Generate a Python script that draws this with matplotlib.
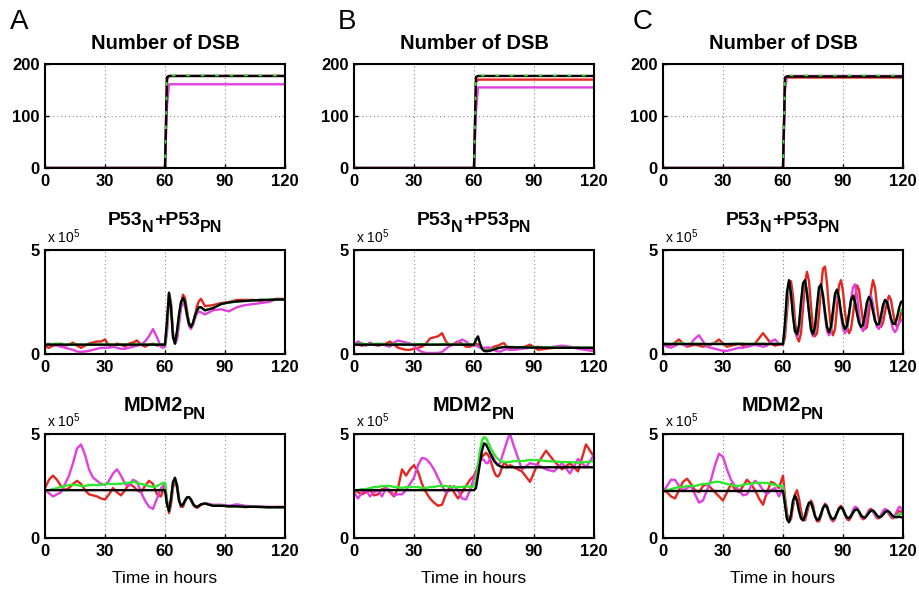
import matplotlib
matplotlib.use('Agg')
import matplotlib.pyplot as plt

plt.rcParams['font.family'] = ['Liberation Sans', 'DejaVu Sans']
plt.rcParams['mathtext.fontset'] = 'custom'
plt.rcParams['mathtext.rm'] = 'Liberation Sans'
plt.rcParams['mathtext.bf'] = 'Liberation Sans:bold'
plt.rcParams['mathtext.it'] = 'Liberation Sans:italic'

# ---------------- data ----------------
# time grids (hours)
T_PRE = [0, 2, 4, 6, 8, 10, 12, 14, 16, 18, 20, 22, 24, 26, 28, 30, 32, 34, 36, 38,
         40, 42, 44, 46, 48, 50, 52, 54, 56, 58, 59, 60]
T_POST_AB = [61, 62, 63, 64, 65, 66, 67, 68, 69, 70, 71, 72, 73, 74, 75, 76, 77, 78,
             80, 84, 88, 92, 96, 100, 104, 108, 112, 116, 120]
T_POST_C = list(range(61, 121))
T_FLAT = [0, 60]

# Number of DSB
DSB_T = [0, 60, 61, 62, 120]
A_DSB_RED = [0, 0, 170, 177, 177]
A_DSB_MAG = [0, 0, 120, 161, 161]
A_DSB_GRN = [0, 0, 176, 178, 178]
A_DSB_BLK = [0, 0, 175, 177, 177]
B_DSB_RED = [0, 0, 165, 170, 170]
B_DSB_MAG = [0, 0, 110, 155, 155]
B_DSB_GRN = [0, 0, 176, 178, 178]
B_DSB_BLK = [0, 0, 175, 177, 177]
C_DSB_RED = [0, 0, 168, 174, 174]
C_DSB_MAG = [0, 0, 150, 177, 177]
C_DSB_GRN = [0, 0, 176, 178, 178]
C_DSB_BLK = [0, 0, 174, 176, 176]

# P53_N + P53_PN  (x 10^5)
A_P53_RED = [0.35, 0.3, 0.4, 0.45, 0.5, 0.4, 0.45, 0.55, 0.4, 0.3, 0.4, 0.5, 0.55, 0.6, 0.6, 0.7,
             0.4, 0.35, 0.5, 0.45, 0.35, 0.5, 0.55, 0.65, 0.45, 0.35, 0.45, 0.5, 0.4, 0.45, 0.45, 0.5,
             1.2, 2.9, 2.5, 1.0, 0.5, 0.8, 1.6, 2.4, 2.85, 2.7, 2.1, 1.5, 1.3, 1.45, 1.85, 2.3, 2.55, 2.65,
             2.3, 2.35, 2.45, 2.5, 2.6, 2.6, 2.6, 2.55, 2.6, 2.65, 2.65]
A_P53_MAG = [0.45, 0.5, 0.45, 0.4, 0.35, 0.3, 0.25, 0.2, 0.12, 0.1, 0.12, 0.15, 0.2, 0.25, 0.3, 0.3,
             0.3, 0.35, 0.3, 0.25, 0.25, 0.3, 0.35, 0.4, 0.45, 0.6, 0.85, 1.2, 0.8, 0.35, 0.3, 0.35,
             1.0, 2.7, 2.4, 1.0, 0.5, 0.7, 1.4, 2.2, 2.5, 2.3, 1.8, 1.35, 1.2, 1.4, 1.7, 1.95, 2.05, 2.0,
             1.9, 2.1, 2.15, 2.05, 2.25, 2.35, 2.4, 2.45, 2.5, 2.65, 2.6]
A_P53_GRN = [0.45, 0.45, 0.48, 0.5, 0.48, 0.45, 0.45, 0.46, 0.45, 0.45, 0.44, 0.45, 0.46, 0.45, 0.45, 0.45,
             0.46, 0.45, 0.44, 0.45, 0.46, 0.45, 0.45, 0.45, 0.46, 0.45, 0.44, 0.45, 0.46, 0.45, 0.45, 0.45,
             1.5, 2.9, 2.3, 0.85, 0.5, 1.05, 1.85, 2.45, 2.68, 2.5, 1.95, 1.5, 1.32, 1.5, 1.85, 2.1, 2.22, 2.22,
             2.1, 2.22, 2.4, 2.48, 2.52, 2.55, 2.57, 2.6, 2.6, 2.62, 2.62]
A_P53_BLK = [0.45, 0.45,
             1.6, 2.95, 2.2, 0.8, 0.5, 1.1, 1.9, 2.5, 2.7, 2.5, 1.9, 1.45, 1.3, 1.5, 1.85, 2.1, 2.25, 2.25,
             2.1, 2.2, 2.4, 2.48, 2.53, 2.55, 2.58, 2.6, 2.6, 2.62, 2.62]

B_P53_RED = [0.45, 0.45, 0.4, 0.45, 0.5, 0.45, 0.4, 0.45, 0.5, 0.6, 0.45, 0.3, 0.25, 0.2, 0.2, 0.25,
             0.3, 0.35, 0.5, 0.75, 0.8, 0.85, 1.0, 0.6, 0.4, 0.5, 0.6, 0.5, 0.35, 0.35, 0.4, 0.45,
             0.5, 0.45, 0.35, 0.25, 0.2, 0.2, 0.22, 0.25, 0.3, 0.35, 0.38, 0.4, 0.45, 0.5, 0.52, 0.4, 0.3, 0.25,
             0.25, 0.3, 0.45, 0.2, 0.25, 0.3, 0.35, 0.3, 0.3, 0.2, 0.15]
B_P53_MAG = [0.45, 0.6, 0.5, 0.4, 0.55, 0.45, 0.45, 0.5, 0.4, 0.35, 0.55, 0.65, 0.6, 0.55, 0.5, 0.4,
             0.2, 0.1, 0.05, 0.05, 0.05, 0.05, 0.1, 0.25, 0.4, 0.45, 0.55, 0.7, 0.6, 0.45, 0.45, 0.4,
             0.4, 0.35, 0.3, 0.3, 0.3, 0.3, 0.32, 0.3, 0.25, 0.2, 0.15, 0.12, 0.12, 0.15, 0.2, 0.22, 0.22, 0.2,
             0.2, 0.25, 0.3, 0.35, 0.3, 0.35, 0.4, 0.35, 0.25, 0.2, 0.15]
B_P53_GRN = [0.45, 0.48, 0.5, 0.47, 0.45, 0.48, 0.5, 0.47, 0.45, 0.45, 0.47, 0.48, 0.47, 0.45, 0.45, 0.45,
             0.47, 0.48, 0.47, 0.45, 0.45, 0.45, 0.47, 0.48, 0.47, 0.45, 0.45, 0.46, 0.47, 0.46, 0.45, 0.45,
             0.65, 0.8, 0.5, 0.28, 0.18, 0.16, 0.17, 0.19, 0.21, 0.24, 0.27, 0.3, 0.31, 0.33, 0.34, 0.34, 0.34, 0.34,
             0.33, 0.33, 0.32, 0.32, 0.31, 0.31, 0.31, 0.3, 0.3, 0.3, 0.3]
B_P53_BLK = [0.45, 0.45,
             0.7, 0.85, 0.5, 0.25, 0.15, 0.13, 0.14, 0.16, 0.18, 0.22, 0.25, 0.28, 0.3, 0.32, 0.33, 0.33, 0.33, 0.33,
             0.32, 0.32, 0.31, 0.31, 0.3, 0.3, 0.3, 0.3, 0.3, 0.3, 0.3]

C_P53_RED = [0.45, 0.4, 0.45, 0.55, 0.7, 0.5, 0.35, 0.4, 0.45, 0.4, 0.35, 0.4, 0.45, 0.55, 0.7, 0.5,
             0.35, 0.4, 0.45, 0.5, 0.4, 0.35, 0.4, 0.5, 0.75, 1.0, 0.75, 0.5, 0.4, 0.45, 0.45, 0.45,
             0.8, 2.0, 3.2, 3.5, 2.8, 1.6, 0.8, 0.6, 1.0, 2.2,
             3.4, 3.95, 3.5, 2.3, 1.2, 0.85, 1.0, 1.9, 3.2, 4.1,
             4.2, 3.4, 2.2, 1.2, 0.9, 1.2, 2.2, 3.3, 3.55, 3.0,
             2.0, 1.3, 1.0, 1.2, 1.9, 2.7, 3.3, 3.1, 2.3, 1.6,
             1.2, 1.3, 2.0, 3.0, 3.55, 3.2, 2.3, 1.6, 1.3, 1.5,
             2.0, 2.5, 2.8, 2.6, 2.0, 1.5, 1.3, 1.5, 2.0, 2.2]
C_P53_MAG = [0.45, 0.35, 0.3, 0.4, 0.5, 0.45, 0.4, 0.5, 0.75, 0.9, 0.6, 0.35, 0.3, 0.25, 0.2, 0.15,
             0.15, 0.2, 0.25, 0.3, 0.3, 0.35, 0.4, 0.45, 0.4, 0.35, 0.4, 0.6, 0.7, 0.5, 0.45, 0.45,
             1.2, 2.6, 3.3, 3.1, 2.0, 1.1, 0.8, 1.1, 2.0, 3.1,
             3.45, 3.0, 2.0, 1.1, 0.85, 1.1, 2.0, 2.9, 3.1, 2.7,
             1.8, 1.1, 0.9, 1.1, 1.8, 2.6, 2.9, 2.6, 1.8, 1.2,
             1.0, 1.2, 1.8, 2.6, 3.2, 3.35, 2.8, 1.9, 1.3, 1.1,
             1.3, 1.9, 2.6, 2.8, 2.4, 1.7, 1.3, 1.2, 1.5, 2.1,
             2.5, 2.6, 2.2, 1.6, 1.2, 1.05, 1.2, 1.5, 1.6, 1.7]
C_P53_GRN = [0.5, 0.5, 0.48, 0.5, 0.52, 0.5, 0.48, 0.5, 0.5, 0.5, 0.48, 0.47, 0.48, 0.5, 0.5, 0.48,
             0.47, 0.48, 0.5, 0.5, 0.5, 0.48, 0.48, 0.5, 0.5, 0.5, 0.48, 0.48, 0.5, 0.5, 0.48, 0.48,
             1.3, 2.8, 3.4, 3.0, 1.9, 1.1, 0.95, 1.3, 2.4, 3.3,
             3.5, 3.0, 2.1, 1.25, 0.95, 1.25, 2.2, 3.1, 3.3, 2.85,
             2.05, 1.35, 1.05, 1.25, 2.0, 2.8, 3.0, 2.7, 2.0, 1.45,
             1.2, 1.3, 1.9, 2.55, 2.7, 2.5, 2.0, 1.5, 1.3, 1.4,
             1.85, 2.45, 2.7, 2.55, 2.1, 1.6, 1.4, 1.45, 1.8, 2.3,
             2.6, 2.5, 2.1, 1.7, 1.45, 1.45, 1.7, 2.0, 2.1, 2.0]
C_P53_BLK = [0.48, 0.48,
             1.5, 3.0, 3.55, 2.9, 1.8, 1.1, 0.95, 1.4, 2.5, 3.4,
             3.55, 2.9, 2.0, 1.2, 0.95, 1.3, 2.3, 3.2, 3.35, 2.8,
             2.0, 1.3, 1.05, 1.3, 2.1, 2.9, 3.1, 2.7, 2.0, 1.45,
             1.2, 1.35, 1.95, 2.6, 2.8, 2.5, 1.95, 1.5, 1.3, 1.4,
             1.9, 2.5, 2.75, 2.55, 2.05, 1.6, 1.4, 1.45, 1.85, 2.35,
             2.6, 2.5, 2.1, 1.7, 1.45, 1.45, 1.75, 2.2, 2.5, 2.55]

# MDM2_PN  (x 10^5)
A_MDM_RED = [2.4, 2.8, 3.0, 2.8, 2.5, 2.3, 2.4, 2.6, 2.75, 2.6, 2.3, 2.1, 2.05, 2.0, 1.9, 1.85,
             2.1, 2.4, 2.2, 2.05, 2.3, 2.6, 2.5, 2.3, 2.2, 2.5, 2.75, 2.6, 2.1, 2.0, 2.3, 2.5,
             1.8, 1.2, 1.6, 2.4, 2.8, 2.6, 1.9, 1.5, 1.5, 1.75, 1.95, 1.95, 1.8, 1.6, 1.5, 1.45, 1.5, 1.6,
             1.65, 1.55, 1.58, 1.5, 1.55, 1.48, 1.52, 1.5, 1.47, 1.5, 1.48]
A_MDM_MAG = [2.3, 2.15, 2.0, 2.1, 2.2, 2.6, 3.0, 3.6, 4.3, 4.5, 4.0, 3.3, 2.9, 2.75, 2.6, 2.55,
             2.75, 3.1, 3.3, 3.0, 2.6, 2.5, 2.8, 2.7, 2.2, 1.8, 1.5, 1.4, 1.9, 2.4, 2.5, 2.6,
             1.7, 1.35, 1.8, 2.6, 2.8, 2.4, 1.8, 1.55, 1.6, 1.8, 1.95, 1.95, 1.85, 1.65, 1.55, 1.5, 1.55, 1.6,
             1.68, 1.6, 1.6, 1.55, 1.62, 1.55, 1.52, 1.5, 1.5, 1.48, 1.5]
A_MDM_GRN = [2.3, 2.3, 2.35, 2.4, 2.45, 2.5, 2.55, 2.55, 2.55, 2.5, 2.5, 2.55, 2.55, 2.55, 2.55, 2.6,
             2.6, 2.6, 2.6, 2.6, 2.65, 2.65, 2.7, 2.65, 2.6, 2.55, 2.5, 2.45, 2.5, 2.6, 2.65, 2.65,
             1.7, 1.3, 1.85, 2.65, 2.85, 2.5, 1.8, 1.55, 1.6, 1.8, 1.95, 1.97, 1.85, 1.65, 1.52, 1.5, 1.55, 1.62,
             1.66, 1.56, 1.55, 1.53, 1.52, 1.5, 1.5, 1.49, 1.48, 1.48, 1.48]
A_MDM_BLK = [2.3, 2.3,
             1.6, 1.3, 1.9, 2.7, 2.9, 2.5, 1.8, 1.55, 1.6, 1.8, 1.95, 1.97, 1.85, 1.65, 1.52, 1.5, 1.55, 1.62,
             1.66, 1.55, 1.55, 1.53, 1.52, 1.5, 1.5, 1.49, 1.48, 1.48, 1.48]

B_MDM_RED = [2.3, 2.2, 2.1, 2.2, 2.3, 2.05, 2.1, 2.35, 2.4, 2.2, 2.0, 2.4, 3.3, 3.0, 3.3, 3.5,
             3.2, 2.6, 2.2, 1.9, 1.7, 1.55, 1.6, 2.1, 2.5, 2.2, 1.9, 2.2, 2.5, 2.8, 2.9, 3.0,
             3.2, 3.5, 3.7, 3.9, 4.0, 4.1, 4.0, 3.8, 3.5, 3.2, 3.0, 2.95, 3.1, 3.4, 3.6, 3.55, 3.4, 3.5,
             3.4, 3.2, 2.7, 3.6, 4.2, 3.7, 3.3, 3.6, 3.2, 4.5, 3.9]
B_MDM_MAG = [2.2, 1.9, 2.2, 2.3, 2.0, 2.2, 2.3, 2.0, 2.4, 2.3, 2.05, 2.1, 2.1, 2.3, 2.6, 2.9,
             3.5, 3.85, 3.8, 3.6, 3.3, 2.9, 2.5, 2.2, 2.3, 2.5, 2.3, 1.9, 1.85, 2.3, 2.6, 2.9,
             3.1, 3.4, 3.7, 3.8, 3.75, 3.6, 3.6, 3.8, 4.0, 3.8, 3.6, 3.5, 3.6, 3.9, 4.2, 4.5, 4.8, 5.0,
             4.4, 3.3, 3.6, 3.5, 3.3, 3.2, 3.6, 3.1, 3.8, 3.4, 4.0]
B_MDM_GRN = [2.3, 2.3, 2.35, 2.35, 2.4, 2.45, 2.45, 2.5, 2.5, 2.5, 2.45, 2.45, 2.4, 2.45, 2.45, 2.45,
             2.45, 2.4, 2.4, 2.45, 2.45, 2.5, 2.5, 2.5, 2.45, 2.45, 2.45, 2.45, 2.5, 2.45, 2.45, 2.5,
             2.8, 3.5, 4.2, 4.7, 4.85, 4.8, 4.6, 4.4, 4.2, 4.05, 3.9, 3.8, 3.72, 3.68, 3.65, 3.65, 3.65, 3.65,
             3.7, 3.7, 3.75, 3.75, 3.7, 3.68, 3.65, 3.65, 3.62, 3.65, 3.7]
B_MDM_BLK = [2.3, 2.3,
             2.4, 3.0, 3.6, 4.2, 4.55, 4.5, 4.3, 4.1, 3.9, 3.7, 3.6, 3.5, 3.45, 3.42, 3.4, 3.4, 3.4, 3.4,
             3.4, 3.4, 3.4, 3.4, 3.4, 3.4, 3.4, 3.4, 3.4, 3.4, 3.4]

C_MDM_RED = [2.3, 2.2, 2.0, 1.9, 2.3, 2.7, 2.85, 2.6, 2.3, 2.2, 2.5, 2.6, 2.4, 2.2, 2.0, 1.8,
             2.2, 2.6, 2.35, 2.2, 2.5, 2.8, 2.6, 2.3, 1.9, 1.6, 2.2, 2.7, 2.6, 2.4, 2.7, 3.0,
             2.0, 1.2, 0.8, 0.9, 1.5, 2.1, 2.3, 1.9, 1.3, 0.9,
             0.85, 1.2, 1.6, 1.8, 1.6, 1.1, 0.8, 0.8, 1.05, 1.45,
             1.65, 1.55, 1.2, 0.9, 0.8, 0.9, 1.2, 1.45, 1.55, 1.4,
             1.1, 0.9, 0.85, 1.0, 1.3, 1.45, 1.45, 1.25, 1.0, 0.9,
             0.95, 1.15, 1.35, 1.4, 1.3, 1.1, 0.95, 0.95, 1.1, 1.25,
             1.35, 1.3, 1.15, 1.0, 0.95, 1.05, 1.2, 1.3, 1.25, 1.1]
C_MDM_MAG = [2.2, 2.5, 2.8, 2.8, 2.5, 2.3, 2.4, 2.5, 2.1, 1.7, 1.8, 2.3, 2.8, 3.5, 4.05, 3.9,
             3.3, 2.8, 2.5, 2.3, 2.05, 2.1, 2.5, 2.75, 2.6, 2.3, 2.1, 2.3, 2.4, 2.0, 2.2, 2.5,
             1.7, 1.0, 0.8, 1.0, 1.6, 1.95, 1.8, 1.35, 0.95, 0.85,
             1.0, 1.4, 1.65, 1.7, 1.45, 1.05, 0.85, 0.9, 1.15, 1.45,
             1.55, 1.45, 1.15, 0.95, 0.85, 0.95, 1.2, 1.4, 1.45, 1.35,
             1.1, 0.95, 0.95, 1.1, 1.35, 1.5, 1.45, 1.25, 1.05, 0.95,
             1.0, 1.15, 1.3, 1.35, 1.25, 1.1, 1.0, 1.0, 1.1, 1.3,
             1.4, 1.35, 1.2, 1.05, 1.0, 1.1, 1.3, 1.5, 1.45, 1.25]
C_MDM_GRN = [2.3, 2.3, 2.35, 2.4, 2.45, 2.45, 2.5, 2.5, 2.5, 2.55, 2.6, 2.6, 2.65, 2.7, 2.7, 2.65,
             2.6, 2.55, 2.5, 2.5, 2.55, 2.6, 2.6, 2.65, 2.65, 2.65, 2.65, 2.6, 2.55, 2.5, 2.5, 2.5,
             1.7, 0.95, 0.78, 1.1, 1.75, 2.0, 1.8, 1.3, 0.95, 0.87,
             1.05, 1.45, 1.7, 1.68, 1.4, 1.05, 0.88, 0.92, 1.15, 1.45,
             1.56, 1.48, 1.2, 0.98, 0.9, 0.98, 1.2, 1.42, 1.46, 1.36,
             1.14, 0.98, 0.96, 1.06, 1.22, 1.34, 1.36, 1.26, 1.1, 1.0,
             0.99, 1.08, 1.22, 1.31, 1.31, 1.21, 1.08, 1.01, 1.03, 1.13,
             1.24, 1.29, 1.26, 1.15, 1.06, 1.02, 1.05, 1.12, 1.18, 1.15]
C_MDM_BLK = [2.26, 2.26,
             1.6, 0.9, 0.75, 1.1, 1.8, 2.05, 1.8, 1.3, 0.95, 0.85,
             1.05, 1.45, 1.7, 1.7, 1.4, 1.05, 0.87, 0.9, 1.15, 1.45,
             1.58, 1.5, 1.2, 0.98, 0.9, 0.98, 1.2, 1.42, 1.48, 1.38,
             1.15, 0.98, 0.95, 1.05, 1.22, 1.35, 1.38, 1.28, 1.1, 1.0,
             0.98, 1.08, 1.22, 1.32, 1.32, 1.22, 1.08, 1.0, 1.02, 1.12,
             1.24, 1.3, 1.27, 1.15, 1.05, 1.0, 1.0, 1.02, 1.0, 0.98]

PANEL_LETTERS = ['A', 'B', 'C']
XTICKS = [0, 30, 60, 90, 120]
DSB_YTICKS = [0, 100, 200]
CONC_YTICKS = [0, 5]
P53_TITLE = [('P53', 'main'), ('N', 'sub'), ('+P53', 'main'), ('PN', 'sub')]
MDM_TITLE = [('MDM2', 'main'), ('PN', 'sub')]

# ---------------- style ----------------
RED = '#e5261f'
MAG = '#e040e0'
GRN = '#2ee82e'
BLK = '#000000'
LW = 1.7

W, H = 919, 590
fig = plt.figure(figsize=(W / 100, H / 100), dpi=100)
renderer = fig.canvas.get_renderer()
COL_LEFT = [45, 354, 663]
ROW_TOP = [64, 250, 434]
AW, AH = 240, 104


def make_ax(r, c):
    l = COL_LEFT[c]
    t = ROW_TOP[r]
    ax = fig.add_axes([l / W, 1 - (t + AH) / H, AW / W, AH / H])
    ax.set_xlim(0, 120)
    ax.set_xticks(XTICKS)
    ax.set_xticklabels([str(v) for v in XTICKS], fontsize=12, fontweight='bold')
    for s in ax.spines.values():
        s.set_linewidth(1.5)
        s.set_color('black')
    ax.tick_params(direction='in', length=3, width=1, pad=4)
    ax.grid(True, color='#8a8a8a', linestyle=(0, (1, 2.5)), linewidth=0.8)
    ax.set_axisbelow(True)
    return ax


def conc_ax(ax):
    ax.set_ylim(0, 5)
    ax.set_yticks(CONC_YTICKS)
    ax.set_yticklabels([str(v) for v in CONC_YTICKS], fontsize=12, fontweight='bold')
    ax.grid(False, axis='y')
    ax.text(2 / AW, 1 + 7 / AH, r'x 10$^5$', transform=ax.transAxes,
            ha='left', va='baseline', fontsize=10)


def sub_title(c, r, parts, above_px, main_fs=14.5, sub_fs=11.5, drop_px=7):
    items = []
    for s, kind in parts:
        fs = main_fs if kind == 'main' else sub_fs
        t = fig.text(0, 0, s, fontsize=fs, fontweight='bold', ha='left', va='baseline')
        w = t.get_window_extent(renderer).width
        items.append((t, w, kind))
    total = sum(w for _, w, _ in items)
    x = COL_LEFT[c] + AW / 2 - total / 2
    base = ROW_TOP[r] - above_px
    for t, w, kind in items:
        y = base + (drop_px if kind == 'sub' else 0)
        t.set_position((x / W, 1 - y / H))
        x += w


dsb = [(A_DSB_RED, A_DSB_MAG, A_DSB_GRN, A_DSB_BLK),
       (B_DSB_RED, B_DSB_MAG, B_DSB_GRN, B_DSB_BLK),
       (C_DSB_RED, C_DSB_MAG, C_DSB_GRN, C_DSB_BLK)]
p53 = [(A_P53_RED, A_P53_MAG, A_P53_GRN, A_P53_BLK, T_POST_AB),
       (B_P53_RED, B_P53_MAG, B_P53_GRN, B_P53_BLK, T_POST_AB),
       (C_P53_RED, C_P53_MAG, C_P53_GRN, C_P53_BLK, T_POST_C)]
mdm = [(A_MDM_RED, A_MDM_MAG, A_MDM_GRN, A_MDM_BLK, T_POST_AB),
       (B_MDM_RED, B_MDM_MAG, B_MDM_GRN, B_MDM_BLK, T_POST_AB),
       (C_MDM_RED, C_MDM_MAG, C_MDM_GRN, C_MDM_BLK, T_POST_C)]

LETTER_X = [10, 338, 633]

for c in range(3):
    # row 1: DSB
    ax = make_ax(0, c)
    r_, m_, g_, k_ = dsb[c]
    ax.plot(DSB_T, r_, color=RED, lw=LW)
    ax.plot(DSB_T, m_, color=MAG, lw=LW)
    ax.plot(DSB_T, k_, color=BLK, lw=LW)
    ax.plot(DSB_T, g_, color=GRN, lw=1.3, dashes=(2, 6))
    ax.set_ylim(0, 200)
    ax.set_yticks(DSB_YTICKS)
    ax.set_yticklabels([str(v) for v in DSB_YTICKS], fontsize=12, fontweight='bold')
    ax.text(0.5, 1 + 15 / AH, 'Number of DSB', transform=ax.transAxes,
            ha='center', va='baseline', fontsize=14.5, fontweight='bold')

    # row 2: P53
    ax = make_ax(1, c)
    r_, m_, g_, k_, tp = p53[c]
    t_all = T_PRE + tp
    ax.plot(t_all, r_, color=RED, lw=LW)
    ax.plot(t_all, m_, color=MAG, lw=LW)
    ax.plot(t_all, g_, color=GRN, lw=LW)
    ax.plot(T_FLAT + tp, k_, color=BLK, lw=LW)
    conc_ax(ax)
    sub_title(c, 1, P53_TITLE, 25, main_fs=14, sub_fs=11.5, drop_px=7)

    # row 3: MDM2
    ax = make_ax(2, c)
    r_, m_, g_, k_, tp = mdm[c]
    t_all = T_PRE + tp
    ax.plot(t_all, r_, color=RED, lw=LW)
    ax.plot(t_all, m_, color=MAG, lw=LW)
    ax.plot(t_all, g_, color=GRN, lw=LW)
    ax.plot(T_FLAT + tp, k_, color=BLK, lw=LW)
    conc_ax(ax)
    sub_title(c, 2, MDM_TITLE, 23, main_fs=14.5, sub_fs=12, drop_px=8)
    ax.text(0.5, -45 / AH, 'Time in hours', transform=ax.transAxes,
            ha='center', va='baseline', fontsize=12.5)

    fig.text(LETTER_X[c] / W, 1 - 29 / H, PANEL_LETTERS[c], fontsize=20,
             ha='left', va='baseline')

fig.savefig('out.png', dpi=100)
